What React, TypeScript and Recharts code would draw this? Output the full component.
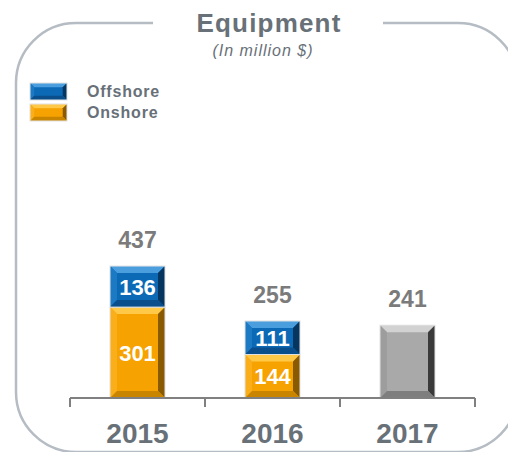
import React from 'react'
import { BarChart, Bar, XAxis, YAxis, LabelList } from 'recharts'

// Equipment revenue by year, in million $
const YEARS = ['2015', '2016', '2017']
const ONSHORE = [301, 144, null]
const OFFSHORE = [136, 111, null]
const TOTAL_ONLY = [null, null, 241]
const TOTALS = [437, 255, 241]

const TEXT_GREY = '#687078'
const FONT = '"Liberation Sans", Arial, sans-serif'

const TONES = {
  blue: { main: '#0b69b6', top: '#4a9ede', left: '#1c7ac4', right: '#06365f', bottom: '#0a4f8c' },
  orange: { main: '#f6a200', top: '#ffc846', left: '#f9ae1a', right: '#8a5a00', bottom: '#c98500' },
  grey: { main: '#a9a9a9', top: '#d2d2d2', left: '#9d9d9d', right: '#3a3a3a', bottom: '#7e7e7e' },
}

const data = YEARS.map((year, i) => ({
  year,
  onshore: ONSHORE[i],
  offshore: OFFSHORE[i],
  totalOnly: TOTAL_ONLY[i],
  total: TOTALS[i],
}))

function Bevel({ x, y, width: w, height: h, tone }: any) {
  if (!w || !h || h <= 0) return null
  const t = TONES[tone as keyof typeof TONES]
  const b = Math.min(7, w / 4, h / 4)
  const pts = (a: number[][]) => a.map((p) => p.join(',')).join(' ')
  return (
    <g>
      <rect x={x} y={y} width={w} height={h} fill={t.main} />
      <polygon points={pts([[x, y], [x + w, y], [x + w - b, y + b], [x + b, y + b]])} fill={t.top} />
      <polygon points={pts([[x, y], [x + b, y + b], [x + b, y + h - b], [x, y + h]])} fill={t.left} />
      <polygon points={pts([[x + w, y], [x + w, y + h], [x + w - b, y + h - b], [x + w - b, y + b]])} fill={t.right} />
      <polygon points={pts([[x, y + h], [x + w, y + h], [x + w - b, y + h - b], [x + b, y + h - b]])} fill={t.bottom} />
      <rect x={x} y={y} width={w} height={h} fill="none" stroke="#e2e2e2" strokeWidth={1} />
    </g>
  )
}

function InsideLabel(p: any) {
  if (p.value == null) return null
  return (
    <text x={p.x + p.width / 2} y={p.y + p.height / 2} dy={8} textAnchor="middle"
      fill="#fff" fontSize={22} fontWeight="bold" fontFamily={FONT}>
      {p.value}
    </text>
  )
}

function TotalLabel(p: any) {
  if (p.value == null) return null
  return (
    <text x={p.x + p.width / 2} y={p.y - 18} textAnchor="middle"
      fill="#7b7b7b" fontSize={23} fontWeight="bold" fontFamily={FONT}>
      {TOTALS[p.index]}
    </text>
  )
}

function YearTick({ x, y, payload, index }: any) {
  const half = 135 / 2
  return (
    <g>
      <line x1={x - half} y1={y - 8} x2={x - half} y2={y + 1} stroke="#808080" strokeWidth={2} />
      {index === YEARS.length - 1 && (
        <line x1={x + half} y1={y - 8} x2={x + half} y2={y + 1} stroke="#808080" strokeWidth={2} />
      )}
      <text x={x} y={y + 37} textAnchor="middle" fill={TEXT_GREY} fontSize={28}
        fontWeight="bold" fontFamily={FONT}>
        {payload.value}
      </text>
    </g>
  )
}

function LegendBox() {
  const items = [
    { label: 'Offshore', tone: 'blue' },
    { label: 'Onshore', tone: 'orange' },
  ]
  return (
    <svg width={170} height={44} style={{ position: 'absolute', left: 29, top: 82 }}>
      {items.map((it, i) => (
        <g key={it.label}>
          <Bevel x={1} y={1 + i * 21} width={37} height={17} tone={it.tone} />
          <text x={58} y={15 + i * 21} fill={TEXT_GREY} fontSize={16} fontWeight="bold"
            fontFamily={FONT} letterSpacing={0.8}>
            {it.label}
          </text>
        </g>
      ))}
    </svg>
  )
}

export default function App() {
  return (
    <div style={{ position: 'absolute', left: 0, top: 0, width: 508, height: 452, background: '#fff', overflow: 'hidden' }}>
      <svg width={508} height={452} style={{ position: 'absolute', left: 0, top: 0 }}>
        <path
          d="M 383 23 H 458 A 60 60 0 0 1 518 83 V 392 A 60 60 0 0 1 458 452 H 76 A 60 60 0 0 1 16 392 V 83 A 60 60 0 0 1 76 23 H 153"
          fill="none" stroke="#b5bcc3" strokeWidth={2.5}
        />
        <text x={269} y={32} textAnchor="middle" fill={TEXT_GREY} fontSize={26} fontWeight="bold"
          fontFamily={FONT} letterSpacing={1.2}>
          Equipment
        </text>
        <text x={263} y={56} textAnchor="middle" fill={TEXT_GREY} fontSize={16} fontStyle="italic"
          fontFamily={FONT} letterSpacing={1}>
          (In million $)
        </text>
      </svg>
      <LegendBox />
      <div style={{ position: 'absolute', left: 0, top: 0 }}>
        <BarChart width={508} height={452} data={data} barSize={55}
          margin={{ top: 96, right: 33, bottom: 24, left: 70 }}>
          <YAxis hide domain={[0, 1000]} />
          <XAxis dataKey="year" height={30} tickLine={false} interval={0}
            axisLine={{ stroke: '#808080', strokeWidth: 2 }} tick={<YearTick />} />
          <Bar dataKey="onshore" name="Onshore" stackId="a" isAnimationActive={false}
            shape={(p: any) => <Bevel {...p} tone="orange" />}>
            <LabelList dataKey="onshore" content={<InsideLabel />} />
          </Bar>
          <Bar dataKey="offshore" name="Offshore" stackId="a" isAnimationActive={false}
            shape={(p: any) => <Bevel {...p} tone="blue" />}>
            <LabelList dataKey="offshore" content={<InsideLabel />} />
            <LabelList dataKey="offshore" content={<TotalLabel />} />
          </Bar>
          <Bar dataKey="totalOnly" name="Total" stackId="a" isAnimationActive={false}
            shape={(p: any) => <Bevel {...p} tone="grey" />}>
            <LabelList dataKey="totalOnly" content={<TotalLabel />} />
          </Bar>
        </BarChart>
      </div>
    </div>
  )
}
